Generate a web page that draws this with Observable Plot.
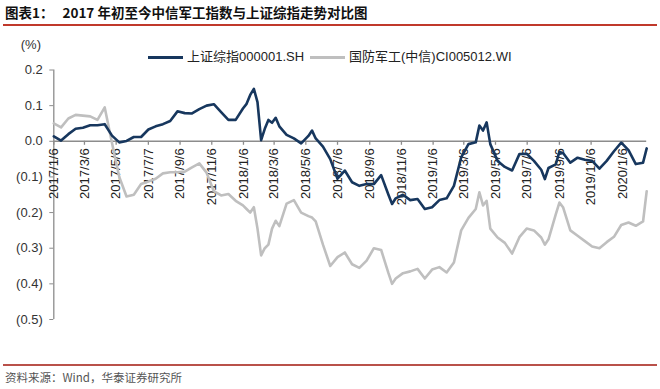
<!DOCTYPE html>
<html><head><meta charset="utf-8">
<script src="https://cdn.jsdelivr.net/npm/d3@7"></script>
<script src="https://cdn.jsdelivr.net/npm/@observablehq/plot@0.6"></script>
<style>
body{margin:0;background:#fff;}
#wrap{position:relative;width:660px;height:389px;overflow:hidden;background:#fff;font-family:"Liberation Sans",Arial,"Noto Sans CJK SC",sans-serif;color:#222;}
.title{position:absolute;left:5px;top:4px;font-family:"Noto Sans CJK SC",sans-serif;font-weight:700;font-size:13.5px;line-height:17px;white-space:nowrap;color:#111;}
.title span{margin-right:9px;}
.rule{position:absolute;left:3px;width:654px;}
.unit{position:absolute;left:0;width:41px;text-align:right;top:37px;font-size:13px;line-height:16px;color:#333;}
.leg{position:absolute;top:49px;font-size:13px;line-height:16px;color:#222;white-space:nowrap;}
.legline{position:absolute;top:56px;height:3px;width:35px;}
.src{position:absolute;left:5px;top:370px;font-size:11.5px;line-height:15px;color:#555;font-family:"Noto Sans CJK SC","Liberation Sans",sans-serif;}
#chart{position:absolute;left:0;top:40px;}
</style></head>
<body>
<div id="wrap">
  <div class="title"><span>图表1：</span>2017 年初至今中信军工指数与上证综指走势对比图</div>
  <div class="rule" style="top:24px;height:2px;background:#c0392b;"></div>
  <div class="unit">(%)</div>
  <div id="legend"></div>
  <div id="chart"></div>
  <div class="rule" style="top:364px;height:1.5px;background:#b9514a;"></div>
  <div class="src">资料来源：Wind，华泰证券研究所</div>
</div>
<script>
const dates = [
"2017-01-06","2017-01-20","2017-02-03","2017-02-17","2017-03-03","2017-03-17","2017-03-31","2017-04-14","2017-04-28","2017-05-12",
"2017-05-26","2017-06-09","2017-06-23","2017-07-07","2017-07-21","2017-08-04","2017-08-18","2017-09-01","2017-09-15","2017-09-29",
"2017-10-13","2017-10-27","2017-11-10","2017-11-24","2017-12-08","2017-12-22","2018-01-05","2018-01-12","2018-01-19","2018-01-26",
"2018-02-02","2018-02-09","2018-02-16","2018-02-23","2018-03-02","2018-03-09","2018-03-16","2018-03-30","2018-04-13","2018-04-27",
"2018-05-11","2018-05-18","2018-05-25","2018-06-08","2018-06-22","2018-07-06","2018-07-20","2018-08-03","2018-08-17","2018-08-31",
"2018-09-14","2018-09-28","2018-10-12","2018-10-19","2018-10-26","2018-11-09","2018-11-23","2018-12-07","2018-12-21","2019-01-04",
"2019-01-18","2019-02-01","2019-02-15","2019-03-01","2019-03-15","2019-03-29","2019-04-05","2019-04-12","2019-04-19","2019-04-26",
"2019-05-10","2019-05-24","2019-06-07","2019-06-21","2019-07-05","2019-07-19","2019-08-02","2019-08-09","2019-08-16","2019-08-30",
"2019-09-06","2019-09-13","2019-09-27","2019-10-11","2019-10-25","2019-11-08","2019-11-22","2019-12-06","2019-12-20","2020-01-03",
"2020-01-17","2020-01-31","2020-02-14","2020-02-21"];

const shValues = [
0.014,0.002,0.02,0.035,0.038,0.045,0.045,0.048,0.016,-0.003,
0.001,0.012,0.012,0.033,0.042,0.048,0.057,0.084,0.079,0.078,
0.09,0.1,0.104,0.082,0.06,0.06,0.092,0.105,0.13,0.147,
0.11,0.003,0.035,0.06,0.052,0.066,0.042,0.018,0.008,-0.006,
0.015,0.03,0.008,-0.015,-0.05,-0.105,-0.082,-0.115,-0.125,-0.12,
-0.12,-0.095,-0.15,-0.176,-0.16,-0.15,-0.165,-0.162,-0.19,-0.185,
-0.165,-0.16,-0.125,-0.045,-0.008,-0.003,0.044,0.03,0.053,-0.008,
-0.055,-0.072,-0.082,-0.036,-0.035,-0.055,-0.08,-0.106,-0.075,-0.065,
-0.03,-0.033,-0.06,-0.046,-0.052,-0.055,-0.077,-0.055,-0.028,-0.004,
-0.025,-0.064,-0.06,-0.02];

const defValues = [
0.05,0.039,0.064,0.074,0.072,0.07,0.06,0.095,-0.005,-0.1,
-0.155,-0.15,-0.12,-0.113,-0.105,-0.09,-0.087,-0.087,-0.085,-0.073,
-0.062,-0.088,-0.14,-0.152,-0.148,-0.167,-0.18,-0.19,-0.2,-0.185,
-0.245,-0.32,-0.3,-0.29,-0.245,-0.223,-0.238,-0.175,-0.165,-0.2,
-0.21,-0.214,-0.225,-0.29,-0.35,-0.325,-0.312,-0.345,-0.355,-0.335,
-0.3,-0.305,-0.37,-0.4,-0.385,-0.37,-0.365,-0.358,-0.385,-0.36,
-0.353,-0.368,-0.34,-0.25,-0.215,-0.19,-0.143,-0.18,-0.167,-0.245,
-0.27,-0.285,-0.315,-0.269,-0.245,-0.25,-0.27,-0.29,-0.275,-0.205,
-0.172,-0.185,-0.25,-0.265,-0.28,-0.295,-0.3,-0.283,-0.268,-0.235,
-0.228,-0.237,-0.225,-0.14];

const xTickLabels = ["2017/1/6","2017/3/6","2017/5/6","2017/7/7","2017/9/6","2017/11/6","2018/1/6","2018/3/6","2018/5/6","2018/7/6",
"2018/9/6","2018/11/6","2019/1/6","2019/3/6","2019/5/6","2019/7/6","2019/9/6","2019/11/6","2020/1/6"];
const yTicks = [0.2,0.1,0,-0.1,-0.2,-0.3,-0.4,-0.5];
const seriesNames = ["上证综指000001.SH","国防军工(中信)CI005012.WI"];
const seriesColors = ["#17375e","#bfbfbf"];

const parse = s => { const [y,m,d] = s.split(/[-\/]/).map(Number); return new Date(Date.UTC(y,m-1,d)); };
const data = dates.map((d,i)=>({date: parse(d), sh: shValues[i], def: defValues[i]}));
const xTicks = xTickLabels.map(parse);
const fmtY = v => { const a = Math.abs(v).toFixed(1); return v < -1e-9 ? `(${a})` : a; };

// legend
const leg = document.getElementById("legend");
const legPos = [[148,187],[310,349]];
seriesNames.forEach((n,i)=>{
  const l = document.createElement("div"); l.className="legline"; l.style.left=legPos[i][0]+"px"; l.style.background=seriesColors[i]; leg.appendChild(l);
  const t = document.createElement("div"); t.className="leg"; t.style.left=legPos[i][1]+"px"; t.textContent=n; leg.appendChild(t);
});

const chart = Plot.plot({
  width:660, height:300, marginLeft:53.3, marginRight:13.8, marginTop:29.5, marginBottom:21,
  style:{background:"transparent", fontFamily:"'Liberation Sans', Arial, sans-serif", fontSize:"13px", color:"#333", overflow:"visible"},
  x:{type:"utc", domain:[data[0].date, data[data.length-1].date], axis:null},
  y:{domain:[-0.5,0.2], ticks:yTicks, tickSize:4, tickPadding:7, tickFormat:fmtY, label:null},
  marks:[
    Plot.ruleX([data[0].date], {stroke:"#8c8c8c", strokeWidth:1.3}),
    Plot.ruleY([0], {stroke:"#8c8c8c", strokeWidth:1.5}),
    Plot.ruleX(xTicks, {x:d=>d, y1:0, y2:0, insetBottom:-4, stroke:"#8c8c8c", strokeWidth:1.3}),
    Plot.text(xTicks, {x:d=>d, y:0, text:(d,i)=>xTickLabels[i], rotate:-90, textAnchor:"end", dy:7, fontSize:13, fill:"#222"}),
    Plot.line(data, {x:"date", y:"def", stroke:seriesColors[1], strokeWidth:2.6}),
    Plot.line(data, {x:"date", y:"sh", stroke:seriesColors[0], strokeWidth:2.6})
  ]
});
chart.querySelectorAll('[aria-label="y-axis tick"]').forEach(g=>g.setAttribute("stroke","#8c8c8c"));
document.getElementById("chart").appendChild(chart);
</script>
</body></html>
